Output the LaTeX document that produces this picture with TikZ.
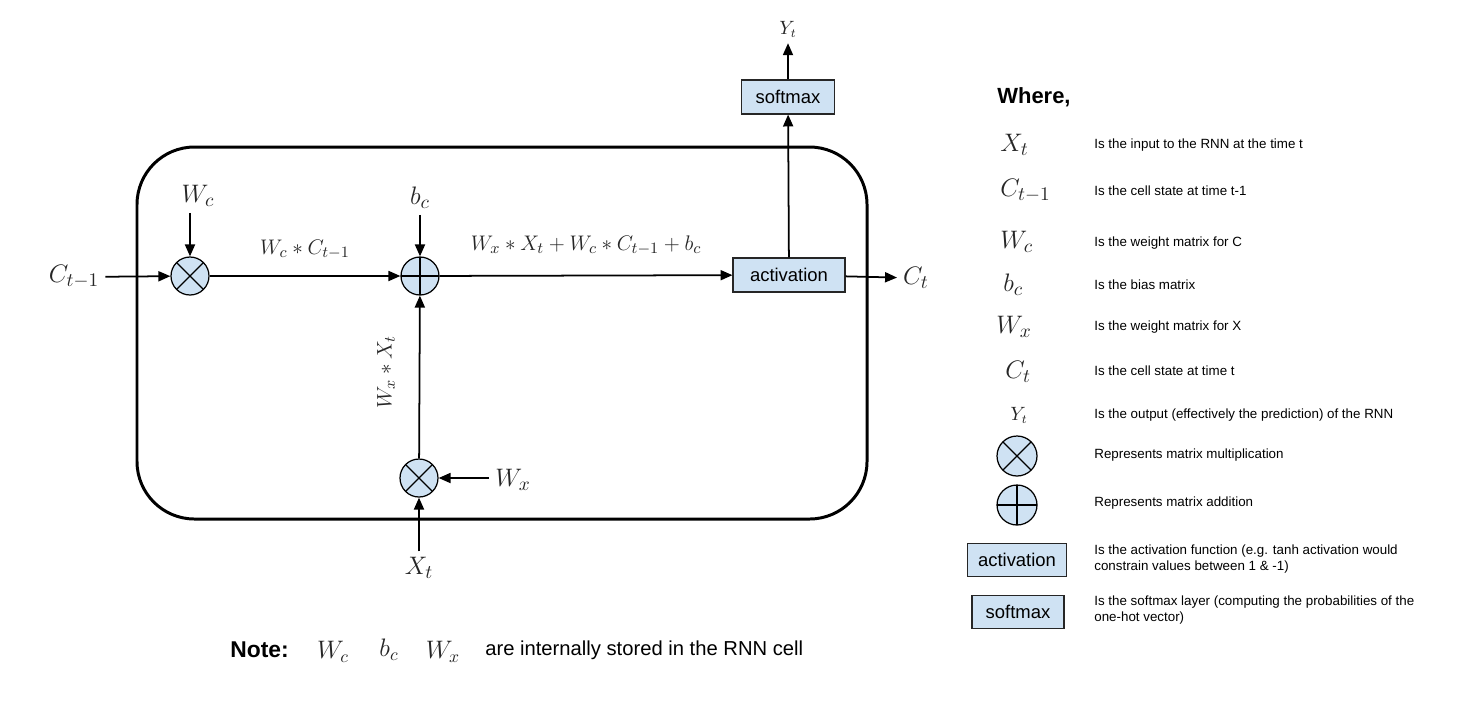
\documentclass[tikz,border=0pt]{standalone}
\usepackage{fontspec}
\setmainfont{Liberation Sans}
\usetikzlibrary{arrows.meta,positioning}
\definecolor{opblue}{RGB}{207,226,243}

\begin{document}
\begin{tikzpicture}[
      x=0.02cm, y=-0.02cm,
      linet/.style={draw=black, line width=1pt,
        -{Triangle[length=6.8pt,width=5.7pt]}},
      cellbox/.style={draw=black, line width=1.7pt, rounded corners=1.15cm},
      opnode/.style={circle, draw=black, line width=0.7pt, fill=opblue,
        inner sep=0pt, minimum size=0.76cm},
      mulop/.style={opnode, path picture={
        \draw[line width=0.7pt] (path picture bounding box.north west) -- (path picture bounding box.south east)
          (path picture bounding box.north east) -- (path picture bounding box.south west);}},
      addop/.style={opnode, path picture={
        \draw[line width=0.7pt] (path picture bounding box.north) -- (path picture bounding box.south)
          (path picture bounding box.west) -- (path picture bounding box.east);}},
      funcbox/.style={rectangle, draw=black!85, line width=0.6pt, fill=opblue,
        inner sep=0pt, minimum height=0.68cm, font=\fontsize{10.5}{12}\selectfont},
      sym/.style={text=black!85, font=\fontsize{15}{18}\selectfont},
      smallsym/.style={text=black!85, font=\fontsize{10.5}{12}\selectfont},
      leg/.style={anchor=west, align=left, inner sep=0pt, font=\fontsize{7.6}{9.1}\selectfont}
    ]
    \useasboundingbox (0,0) rectangle (1466,701);

    % the cell
    \draw[cellbox] (137,147) rectangle (867,519);

    \path (190,276) node(mulc) [mulop] {}
    (420,276) node(addc) [addop] {}
    (419,478) node(mulx) [mulop] {}
    (789,275) node(act) [funcbox, minimum width=2.24cm] {activation}
    (788,97) node(soft) [funcbox, minimum width=1.86cm] {softmax};

    \path (74,277) node(cprev) [sym] {$C_{t-1}$}
    (198,196) node(wc) [sym] {$W_c$}
    (420,198) node(bc) [sym] {$b_c$}
    (513,480) node(wx) [sym] {$W_x$}
    (419,568) node(xt) [sym] {$X_t$}
    (916,278) node(ct) [sym] {$C_t$}
    (788,29) node(yt) [smallsym] {$Y_t$};

    \draw[linet] (cprev) -- (mulc);
    \draw[linet] (mulc |- wc.south) -- (mulc);
    \draw[linet] (mulc) -- node[midway, above=6pt, text=black!85,
      font=\fontsize{12.5}{14}\selectfont] (prodc) {$W_c * C_{t-1}$} (addc);
    \draw[linet] (addc |- bc.south) -- (addc);
    \draw[linet] (xt) -- (mulx);
    \draw[linet] (wx.west |- mulx) -- (mulx);
    \draw[linet] (mulx) -- (addc);
    \draw[linet] (addc) -- node[midway, above=8pt, text=black!85,
      font=\fontsize{13}{15}\selectfont] (sumc) {$W_x * X_t + W_c * C_{t-1} + b_c$} (act);
    \draw[linet] (act) -- (ct);
    \draw[linet] (act) -- (soft);
    \draw[linet] (soft) -- (yt);
    \path (386,372) node(prodx) [rotate=90, text=black!85,
      font=\fontsize{13}{15}\selectfont] {$W_x * X_t$};

    % legend
    \path (997,97) node(where) [anchor=west, inner sep=0pt, font=\fontsize{12.5}{14}\selectfont\bfseries] {Where,};
    \path (1000,145) node(lxt) [sym, anchor=west, inner sep=0pt] {$X_t$}
    (1000,191) node(lcprev) [sym, anchor=west, inner sep=0pt] {$C_{t-1}$}
    (1000,242) node(lwc) [sym, anchor=west, inner sep=0pt] {$W_c$}
    (1003,285) node(lbc) [sym, anchor=west, inner sep=0pt] {$b_c$}
    (996,327) node(lwx) [sym, anchor=west, inner sep=0pt] {$W_x$}
    (1005,372) node(lct) [sym, anchor=west, inner sep=0pt] {$C_t$}
    (1010,415) node(lyt) [smallsym, anchor=west, inner sep=0pt] {$Y_t$}
    (1017,456) node(lmul) [mulop, minimum size=0.8cm] {}
    (1017,505) node(ladd) [addop, minimum size=0.8cm] {}
    (1017,560) node(lact) [funcbox, minimum width=1.98cm, minimum height=0.66cm] {activation}
    (1018,612) node(lsoft) [funcbox, minimum width=1.84cm, minimum height=0.66cm] {softmax};

    \path (1094,145) node(txt1) [leg] {Is the input to the RNN at the time t}
    (1094,191) node(txt2) [leg] {Is the cell state at time t-1}
    (1094,243) node(txt3) [leg] {Is the weight matrix for C}
    (1094,285) node(txt4) [leg] {Is the bias matrix}
    (1094,327) node(txt5) [leg] {Is the weight matrix for X}
    (1094,371) node(txt6) [leg] {Is the cell state at time t}
    (1094,415) node(txt7) [leg] {Is the output (effectively the prediction) of the RNN}
    (1094,455) node(txt8) [leg] {Represents matrix multiplication}
    (1094,503) node(txt9) [leg] {Represents matrix addition}
    (1094,559) node(txt10) [leg] {Is the activation function (e.g. tanh activation would\\constrain values between 1 \& -1)}
    (1094,610) node(txt11) [leg] {Is the softmax layer (computing the probabilities of the\\one-hot vector)};

    % note
    \path (230,650) node(note) [anchor=west, inner sep=0pt, font=\fontsize{13}{15}\selectfont\bfseries] {Note:}
    (333,652) node(nwc) [text=black!85, font=\fontsize{14}{16}\selectfont] {$W_c$}
    (389,650) node(nbc) [text=black!85, font=\fontsize{14}{16}\selectfont] {$b_c$}
    (443,652) node(nwx) [text=black!85, font=\fontsize{14}{16}\selectfont] {$W_x$}
    (485,650) node(notetxt) [anchor=west, inner sep=0pt, font=\fontsize{11.5}{13}\selectfont] {are internally stored in the RNN cell};
  \end{tikzpicture}
\end{document}
